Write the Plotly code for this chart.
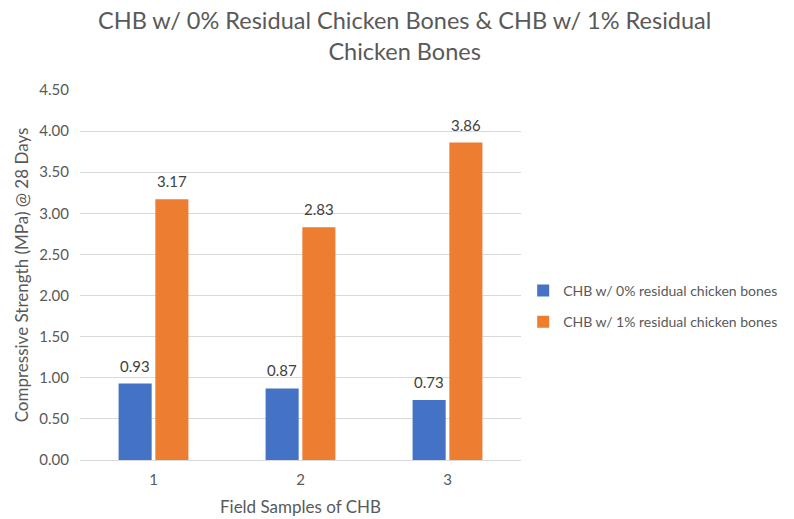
import plotly.graph_objects as go

categories = ["1", "2", "3"]
series_names = ["CHB w/ 0% residual chicken bones", "CHB w/ 1% residual chicken bones"]
values_0 = [0.93, 0.87, 0.73]
values_1 = [3.17, 2.83, 3.86]
colors = ["#4472C4", "#ED7D31"]
title_text = "CHB w/ 0% Residual Chicken Bones & CHB w/ 1% Residual<br>Chicken Bones"

FONT = "Lato, 'Open Sans', sans-serif"
GRAY = "#595959"

fig = go.Figure()
all_vals = [values_0, values_1]
for i, (name, vals) in enumerate(zip(series_names, all_vals)):
    fig.add_trace(go.Bar(
        x=categories, y=vals, name=name,
        marker=dict(color=colors[i], line=dict(width=0)),
        legendgroup=f"g{i}",
    ))

# value labels placed above each bar (offset to grouped bar positions)
annotations = []
for i, vals in enumerate(all_vals):
    xs = -18.4 if i == 0 else 18.4
    for idx, v in enumerate(vals):
        annotations.append(dict(
            x=idx, y=v, xref="x", yref="y", text=f"{v:.2f}",
            showarrow=False, xanchor="center", yanchor="bottom",
            xshift=xs, yshift=7,
            font=dict(size=15, color="#404040", family=FONT),
        ))
annotations.append(dict(
    text=title_text, xref="paper", yref="paper",
    x=0.735, y=1.0, yanchor="bottom", xanchor="center",
    yshift=23, showarrow=False, align="center",
    font=dict(size=23.5, color=GRAY, family=FONT),
))

fig.update_layout(
    width=794, height=519,
    paper_bgcolor="white", plot_bgcolor="white",
    font=dict(family=FONT, color=GRAY),
    margin=dict(l=72, r=281, t=82, b=67, autoexpand=False),
    barmode="group", bargap=0.5, bargroupgap=0.1,
    legend=dict(
        x=1.005, xanchor="left", y=0.5, yanchor="top",
        font=dict(size=14, color=GRAY, family=FONT),
        traceorder="grouped", tracegroupgap=10,
        itemwidth=30,
    ),
    showlegend=True,
    annotations=annotations,
)
fig.update_xaxes(
    automargin=False,
    showgrid=False, showline=False, zeroline=False,
    tickfont=dict(size=15, color=GRAY), ticks="", ticklabelstandoff=9,
    title=dict(text="Field Samples of CHB", font=dict(size=17, color=GRAY), standoff=14),
)
fig.update_yaxes(
    automargin=False,
    range=[0, 4.5], dtick=0.5, tickformat=".2f",
    showgrid=True, gridcolor="#D9D9D9", gridwidth=1,
    zeroline=True, zerolinecolor="#D9D9D9", zerolinewidth=1,
    tickfont=dict(size=15, color=GRAY), ticks="", ticklen=0, ticklabelstandoff=10,
    title=dict(text="Compressive Strength (MPa) @ 28 Days", font=dict(size=17, color=GRAY), standoff=6),
)

fig.write_html("out.html")
